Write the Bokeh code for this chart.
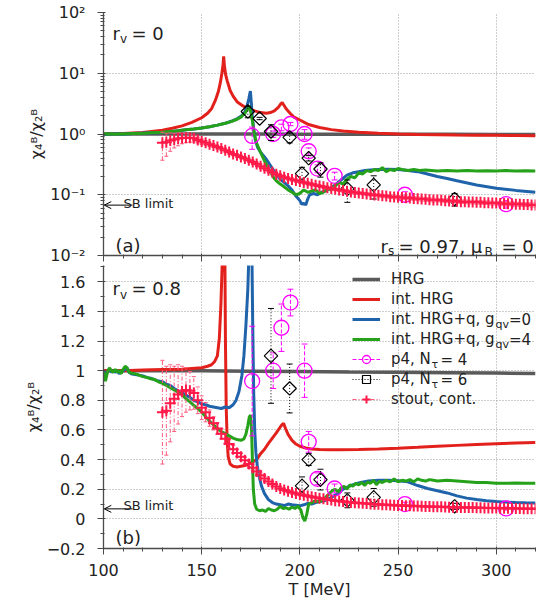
from bokeh.plotting import figure
from bokeh.layouts import column
from bokeh.models import (Range1d, FixedTicker, CustomJSTickFormatter, Label, Legend,
                          LegendItem, Arrow, OpenHead)
from bokeh.embed import file_html
from bokeh.resources import INLINE

FONT = "DejaVu Sans"

# ---------------- data ----------------
HRG_T = [100, 125, 150, 175, 200, 225, 250, 275, 300, 320]
HRG_V = [1.0, 1.0, 0.999, 0.997, 0.995, 0.992, 0.99, 0.987, 0.984, 0.981]

# r_v = 0 (panel a)
IHRG0_T = [100, 110, 120, 130, 135, 140, 145, 150, 153, 155, 157, 158.5, 159.5, 160.3, 160.9, 161.2,
           161.6, 162.2, 163, 164.5, 166, 168, 171, 174, 177, 180, 183, 185, 187, 189, 190.2, 191,
           191.8, 193, 195, 197, 200, 204, 210, 216, 222, 230, 240, 250, 260, 270, 280, 290, 300, 310, 320]
IHRG0_V = [1.0, 1.02, 1.06, 1.15, 1.24, 1.36, 1.55, 1.85, 2.2, 2.6, 3.6, 5.0, 7.0, 10.0, 14.0, 19.0,
           13.0, 9.5, 7.5, 5.2, 4.2, 3.4, 2.9, 2.6, 2.4, 2.25, 2.2, 2.25, 2.4, 2.75, 3.1, 3.3,
           3.0, 2.6, 2.2, 1.9, 1.7, 1.45, 1.28, 1.18, 1.12, 1.07, 1.03, 1.0, 0.98, 0.97, 0.96, 0.955, 0.95, 0.945, 0.94]

G0_A_T = [100, 101, 102, 103, 104, 105, 107, 109, 111, 113, 115, 118, 121, 124, 127, 130, 134, 138, 142,
          146, 150, 154, 158, 162, 165, 168, 170, 172, 173, 174, 174.8, 175.3, 175.8, 176.5, 177.3, 178.5,
          180, 182, 184, 186, 188, 190, 192, 194, 196, 198, 200, 201, 202, 203, 204, 205, 207, 209, 211,
          213, 215, 218, 221, 224, 227, 230, 233, 236, 240, 245, 250, 255, 260, 265, 270, 275, 280, 290,
          300, 310, 320]
G0_A_V = [0.97, 1.0, 0.98, 1.01, 0.99, 1.0, 1.01, 0.99, 1.0, 1.01, 1.02, 1.03, 1.04, 1.05, 1.05, 1.06,
          1.09, 1.13, 1.17, 1.21, 1.26, 1.32, 1.4, 1.5, 1.62, 1.78, 1.95, 2.3, 2.8, 3.8, 5.1, 3.2, 1.9,
          1.2, 0.8, 0.6, 0.5, 0.42, 0.34, 0.27, 0.22, 0.18, 0.16, 0.14, 0.12, 0.095, 0.08, 0.07, 0.072,
          0.068, 0.085, 0.1, 0.105, 0.1, 0.11, 0.115, 0.125, 0.145, 0.175, 0.21, 0.23, 0.24, 0.25, 0.255,
          0.26, 0.262, 0.26, 0.25, 0.24, 0.22, 0.2, 0.185, 0.17, 0.145, 0.128, 0.118, 0.11]

G4_A_T = [100, 101, 102, 103, 104, 106, 108, 110, 112, 115, 118, 121, 124, 127, 130, 134, 138, 142, 146,
          150, 154, 158, 162, 165, 168, 170, 172, 173.5, 174.3, 175, 175.9, 176.8, 178, 180, 182, 184,
          186.7, 188, 190, 192, 194, 196, 198, 200, 202, 204, 206, 208, 210, 212, 214, 216, 218, 220,
          222, 224, 226, 228, 230, 232, 234, 236, 238, 240, 242, 244, 246, 248, 250, 252, 255, 258, 261,
          264, 267, 270, 275, 280, 285, 290, 295, 300, 305, 310, 315, 320]
G4_A_V = [0.98, 1.02, 0.99, 1.0, 1.01, 0.99, 1.01, 1.0, 1.01, 1.02, 1.02, 1.03, 1.05, 1.06, 1.07, 1.1,
          1.13, 1.17, 1.21, 1.26, 1.32, 1.4, 1.5, 1.6, 1.75, 1.9, 2.2, 2.6, 2.9, 2.3, 1.6, 1.0, 0.7, 0.5,
          0.36, 0.27, 0.19, 0.17, 0.15, 0.135, 0.12, 0.11, 0.1, 0.105, 0.12, 0.11, 0.115, 0.12, 0.105,
          0.11, 0.125, 0.12, 0.14, 0.16, 0.15, 0.18, 0.2, 0.19, 0.23, 0.22, 0.25, 0.24, 0.26, 0.25, 0.28,
          0.24, 0.26, 0.25, 0.27, 0.26, 0.25, 0.26, 0.25, 0.255, 0.25, 0.245, 0.25, 0.245, 0.25, 0.245,
          0.248, 0.245, 0.25, 0.245, 0.248, 0.245]

# r_v = 0.8 (panel b)
IHRG8_T = [100, 110, 120, 130, 140, 145, 150, 153, 155, 156.5, 158, 159, 159.8, 160.4, 160.9, 161.3,
           161.7, 162.1, 162.5, 163, 163.5, 164.5, 166, 168, 170, 172, 174, 176, 178, 180, 182, 184,
           186, 188, 189.5, 190.8, 191.7, 192.7, 194, 196, 198, 200, 203, 206, 210, 215, 220, 230,
           240, 250, 260, 270, 280, 290, 300, 310, 320]
IHRG8_V = [1.0, 1.0, 1.005, 1.008, 1.01, 1.015, 1.02, 1.03, 1.04, 1.06, 1.1, 1.22, 1.45, 1.7, 2.2, 2.8,
           2.0, 1.2, 0.75, 0.52, 0.42, 0.37, 0.355, 0.35, 0.355, 0.36, 0.37, 0.385, 0.4, 0.44, 0.47, 0.51,
           0.545, 0.58, 0.61, 0.635, 0.645, 0.61, 0.57, 0.53, 0.505, 0.49, 0.478, 0.472, 0.468, 0.466,
           0.466, 0.468, 0.472, 0.477, 0.483, 0.49, 0.496, 0.502, 0.507, 0.512, 0.516]

G0_B_T = [100, 101, 102, 103, 104, 105, 106, 107, 108, 109, 110, 111, 112, 113, 114,
          116, 118, 120, 122, 124, 126, 128, 130, 132, 134, 136, 138, 140, 142, 144, 146, 148, 150,
          152, 154, 156, 158, 160, 162, 164, 166,
          167.5, 169, 170.5, 171.5, 172.5, 173.5, 174.2, 174.8, 175.4, 176, 176.5, 177, 177.6, 178.3, 179.2,
          180.5, 182, 184, 186, 188,
          190, 192, 194, 196, 198, 200, 202, 204, 206, 208, 210, 212, 214, 216, 218, 220, 222,
          225, 228, 231, 235, 240, 245, 250, 255, 260, 265, 270, 275, 280, 285, 290, 295, 300, 305,
          310, 315, 320]
G0_B_V = [1.0, 0.97, 0.99, 1.01, 0.99, 1.0, 0.99, 1.0, 0.98, 0.99, 1.0, 1.01, 1.02, 0.99, 0.98,
          0.975, 0.97, 0.965, 0.955, 0.95, 0.94, 0.93, 0.925, 0.91, 0.9, 0.88, 0.865, 0.85, 0.835, 0.82,
          0.8, 0.79, 0.775, 0.77, 0.76, 0.755, 0.75, 0.745, 0.755, 0.75, 0.77,
          0.8, 0.86, 0.97, 1.1, 1.3, 1.55, 1.85, 2.3, 2.0, 1.3, 0.85, 0.6, 0.45, 0.36, 0.29,
          0.22, 0.17, 0.13, 0.11, 0.1,
          0.095, 0.09, 0.1, 0.095, 0.092, 0.088, 0.095, 0.105, 0.1, 0.11, 0.115, 0.12, 0.13, 0.145,
          0.16, 0.18, 0.2,
          0.22, 0.235, 0.245, 0.255, 0.26, 0.26, 0.258, 0.25, 0.225, 0.205, 0.19, 0.175, 0.155, 0.14,
          0.13, 0.122, 0.117, 0.113, 0.11, 0.108, 0.107]

G4_B_T = [100, 101, 102, 103, 104, 105, 106, 107, 108, 109, 110, 111, 112, 113, 114,
          116, 118, 120, 122, 124, 126, 128, 130, 132, 134, 136, 138, 140, 142, 144, 146, 148, 150,
          152, 154, 156, 158, 160, 162, 164, 166, 168, 170,
          171.5, 172.5, 173.5, 174.3, 174.9, 175.4, 175.8, 176.3, 177, 178, 179.5, 181, 182.5, 184, 185.5,
          187, 188.5, 190, 191.5, 193, 194.5, 196, 197.5, 199, 200.5, 201.5, 202.5, 203.5, 204.5, 206,
          207.5, 209, 210.5, 212, 213.5, 215, 216.5, 218, 219.5, 221, 222.5, 224, 225.5, 227, 228.5,
          230, 231.5, 233, 234.5, 236, 237.5, 239, 240.5, 242,
          244, 246, 248, 250, 252, 254, 256, 258, 260, 262, 264, 266, 268, 270,
          275, 280, 285, 290, 295, 300, 305, 310, 315, 320]
G4_B_V = [0.99, 0.93, 0.99, 1.02, 1.0, 0.99, 1.01, 0.99, 1.0, 0.98, 1.01, 1.03, 1.02, 0.99, 0.985,
          0.98, 0.97, 0.96, 0.955, 0.945, 0.94, 0.925, 0.915, 0.9, 0.885, 0.87, 0.855, 0.84, 0.81, 0.79,
          0.765, 0.745, 0.72, 0.69, 0.66, 0.635, 0.61, 0.59, 0.575, 0.56, 0.545, 0.535, 0.53,
          0.54, 0.57, 0.63, 0.69, 0.7, 0.6, 0.42, 0.2, 0.1, 0.065, 0.055, 0.06, 0.05, 0.07, 0.06,
          0.055, 0.065, 0.085, 0.07, 0.075, 0.065, 0.08, 0.07, 0.085, 0.06, 0.01, -0.015, 0.03, 0.1, 0.11,
          0.12, 0.115, 0.12, 0.13, 0.15, 0.17, 0.19, 0.2, 0.18, 0.21, 0.22, 0.2, 0.23, 0.22, 0.24,
          0.23, 0.245, 0.225, 0.25, 0.24, 0.26, 0.23, 0.255, 0.245,
          0.26, 0.25, 0.27, 0.25, 0.26, 0.255, 0.265, 0.25, 0.27, 0.26, 0.255, 0.265, 0.26, 0.255,
          0.26, 0.255, 0.25, 0.245, 0.245, 0.24, 0.24, 0.242, 0.24, 0.24]

# lattice data (same in both panels)
P4N4_T = [175.7, 186.4, 190.6, 195.2, 202.4, 204.5, 209.0, 217.7, 253.5, 305.0]
P4N4_V = [0.93, 1.0, 1.29, 1.46, 1.0, 0.52, 0.27, 0.205, 0.10, 0.07]
P4N4_E = [0.37, 0.12, 0.16, 0.09, 0.18, 0.07, 0.04, 0.03, 0.012, 0.01]

P4N6_T = [173.5, 179.5, 185.3, 194.8, 201.1, 204.5, 210.5, 224.2, 237.6, 278.8]
P4N6_V = [2.35, 1.8, 1.1, 0.88, 0.223, 0.40, 0.265, 0.125, 0.145, 0.085]
P4N6_E = [0.5, 0.08, 0.32, 0.165, 0.06, 0.04, 0.07, 0.05, 0.06, 0.02]

STOUT_T = [130, 132, 134, 136, 138, 140, 142, 144, 146, 148,
           150, 152, 154, 156, 158, 160, 162, 164, 166, 168,
           170, 172, 174, 176, 178, 180, 182, 184, 186, 188,
           190, 192, 194, 196, 198, 200, 202, 204, 206, 208,
           210, 212, 214, 216, 218, 220, 222, 224, 226, 228,
           230, 232, 234, 236, 238, 240, 242, 244, 246, 248,
           250, 252, 254, 256, 258, 260, 262, 264, 266, 268,
           270, 272, 274, 276, 278, 280, 282, 284, 286, 288,
           290, 292, 294, 296, 298, 300, 302, 304, 306, 308,
           310, 312, 314, 316, 318, 320]
STOUT_V = [0.72, 0.73, 0.78, 0.81, 0.84, 0.86, 0.87, 0.865, 0.85, 0.80,
           0.75, 0.72, 0.68, 0.645, 0.61, 0.575, 0.54, 0.505, 0.47, 0.445,
           0.42, 0.395, 0.37, 0.345, 0.32, 0.295, 0.272, 0.252, 0.235, 0.218,
           0.205, 0.195, 0.186, 0.178, 0.171, 0.165, 0.159, 0.154, 0.149, 0.144,
           0.139, 0.135, 0.131, 0.127, 0.123, 0.12, 0.117, 0.114, 0.111, 0.109,
           0.107, 0.105, 0.103, 0.101, 0.099, 0.098, 0.096, 0.095, 0.093, 0.092,
           0.091, 0.09, 0.089, 0.088, 0.087, 0.086, 0.085, 0.084, 0.083, 0.082,
           0.082, 0.081, 0.08, 0.079, 0.079, 0.078, 0.077, 0.077, 0.076, 0.076,
           0.075, 0.075, 0.074, 0.074, 0.073, 0.073, 0.072, 0.072, 0.071, 0.071,
           0.07, 0.07, 0.069, 0.069, 0.068, 0.068]
STOUT_E = [0.35, 0.3, 0.26, 0.22, 0.2, 0.17, 0.15, 0.13, 0.11, 0.09,
           0.08, 0.065, 0.055, 0.045, 0.04, 0.035, 0.03, 0.028, 0.025, 0.022,
           0.02, 0.019, 0.018, 0.017, 0.016, 0.015, 0.014, 0.013, 0.012, 0.012,
           0.011, 0.011, 0.01, 0.01, 0.01, 0.009, 0.009, 0.009, 0.008, 0.008,
           0.007, 0.007, 0.007, 0.007, 0.007, 0.007, 0.007, 0.007, 0.007, 0.007,
           0.006, 0.006, 0.006, 0.006, 0.006, 0.006, 0.006, 0.006, 0.006, 0.006,
           0.006, 0.006, 0.006, 0.006, 0.006, 0.006, 0.006, 0.006, 0.006, 0.006,
           0.005, 0.005, 0.005, 0.005, 0.005, 0.005, 0.005, 0.005, 0.005, 0.005,
           0.005, 0.005, 0.005, 0.005, 0.005, 0.005, 0.005, 0.005, 0.005, 0.005,
           0.005, 0.005, 0.005, 0.005, 0.005, 0.005]

SB_LIMIT = 0.0675

X_TICKS = [100, 150, 200, 250, 300]
X_MINOR = [110, 120, 130, 140, 160, 170, 180, 190, 210, 220, 230, 240, 260, 270, 280, 290, 310, 320]
YT_TICKS = [0.01, 0.1, 1, 10, 100]
YT_LABELS = ["10⁻²", "10⁻¹", "10⁰", "10¹", "10²"]
YB_TICKS = [-0.2, 0, 0.2, 0.4, 0.6, 0.8, 1.0, 1.2, 1.4, 1.6]
YB_LABELS = ["−0.2", "0", "0.2", "0.4", "0.6", "0.8", "1", "1.2", "1.4", "1.6"]
YB_MINOR = [-0.1, 0.1, 0.3, 0.5, 0.7, 0.9, 1.1, 1.3, 1.5, 1.7]

C_HRG = "#5a5a5a"
C_IHRG = "#e3211c"
C_G0 = "#1f63ab"
C_G4 = "#25a21a"
C_P4N4 = "#ff00ff"
C_P4N6 = "#000000"
C_STOUT = "#ff1a4a"
C_STOUT_ERR = "#ff5a7c"
AX_C = "#4a4a4a"
TXT_C = "#222222"


def base_fig(y_range, y_type, fh, btop, bbot):
    p = figure(title=None, frame_width=432, frame_height=fh, x_range=Range1d(100, 320),
               y_range=y_range, y_axis_type=y_type, output_backend="svg",
               toolbar_location=None, min_border_left=103, min_border_right=9,
               min_border_top=btop, min_border_bottom=bbot)
    p.outline_line_color = None
    xt = FixedTicker(ticks=X_TICKS, minor_ticks=X_MINOR)
    p.xaxis.ticker = xt
    p.xgrid.ticker = xt
    for g in (p.xgrid[0], p.ygrid[0]):
        g.grid_line_color = "#9a9a9a"
        g.grid_line_dash = "1 2"
        g.grid_line_width = 1
    for ax in (p.xaxis[0], p.yaxis[0]):
        ax.axis_line_color = AX_C
        ax.axis_line_width = 1.3
        ax.major_tick_line_color = AX_C
        ax.minor_tick_line_color = AX_C
        ax.major_tick_out = 6
        ax.major_tick_in = 2
        ax.minor_tick_out = 3
        ax.minor_tick_in = 1
        ax.major_label_text_font = FONT
        ax.major_label_text_font_size = "16px"
        ax.major_label_text_color = TXT_C
        ax.axis_label_text_font = FONT
        ax.axis_label_text_font_size = "16px"
        ax.axis_label_text_font_style = "normal"
        ax.axis_label_text_color = TXT_C
    p.yaxis.major_label_standoff = 12
    p.yaxis.axis_label = "χ₄ᴮ/χ₂ᴮ"
    p.yaxis.axis_label_standoff = 1
    return p


def draw_models(p, ihrg, g0, g4):
    r_hrg = p.line(HRG_T, HRG_V, line_color=C_HRG, line_width=3.5)
    r_ihrg = p.line(ihrg[0], ihrg[1], line_color=C_IHRG, line_width=3)
    r_g0 = p.line(g0[0], g0[1], line_color=C_G0, line_width=3)
    r_g4 = p.line(g4[0], g4[1], line_color=C_G4, line_width=3)
    return r_hrg, r_ihrg, r_g0, r_g4


def draw_points(p, T, V, E, err_color, err_dash, cap, **mk):
    lo = [v - e for v, e in zip(V, E)]
    hi = [v + e for v, e in zip(V, E)]
    r_err = p.segment(x0=T, y0=lo, x1=T, y1=hi, line_color=err_color,
                      line_dash=err_dash, line_width=1)
    p.scatter(T + T, lo + hi, marker="dash", size=cap, line_color=err_color, line_width=1)
    r_pts = p.scatter(T, V, **mk)
    return r_err, r_pts


def draw_lattice(p):
    a = draw_points(p, P4N4_T, P4N4_V, P4N4_E, C_P4N4, "4 2", 6,
                    marker="circle", size=15, fill_color=None, line_color=C_P4N4, line_width=1.3)
    b = draw_points(p, P4N6_T, P4N6_V, P4N6_E, C_P4N6, "1 2", 6,
                    marker="square", size=9.5, angle=45, angle_units="deg",
                    fill_color=None, line_color=C_P4N6, line_width=1.2)
    c = draw_points(p, STOUT_T, STOUT_V, STOUT_E, C_STOUT_ERR, "4 2 1 2", 4,
                    marker="cross", size=11, line_color=C_STOUT, line_width=2)
    return a, b, c


def lab(p, text, x, y, size, baseline="alphabetic"):
    p.add_layout(Label(x=x, y=y, x_units="screen", y_units="screen", text=text,
                       text_font=FONT, text_font_size=f"{size}px", text_color=TXT_C,
                       text_baseline=baseline, text_align="left"))


def sb_arrow(p, y_text):
    p.add_layout(Arrow(end=OpenHead(size=7, line_width=1, line_color="black"),
                       x_start=114.8, y_start=SB_LIMIT, x_end=100.4, y_end=SB_LIMIT,
                       line_width=1, line_color="black"))
    lab(p, "SB limit", 20, y_text, 13)


# ---------------- top panel (r_v = 0, log) ----------------
p1 = base_fig(Range1d(0.01, 100), "log", 243, 12, 10)
yt = FixedTicker(ticks=YT_TICKS, minor_ticks=[m * 10 ** e for e in (-2, -1, 0, 1) for m in range(2, 10)])
p1.yaxis.ticker = yt
p1.ygrid.ticker = FixedTicker(ticks=YT_TICKS)
p1.yaxis.major_label_overrides = dict(zip(YT_TICKS, YT_LABELS))
p1.xaxis.formatter = CustomJSTickFormatter(code="return ''")
p1.xaxis.major_label_text_font_size = "0px"
p1.xaxis.major_label_standoff = 0

draw_models(p1, (IHRG0_T, IHRG0_V), (G0_A_T, G0_A_V), (G4_A_T, G4_A_V))
draw_lattice(p1)
sb_arrow(p1, 52.5)
lab(p1, "r", 9, 222, 18)
lab(p1, "v", 16.5, 217, 12)
lab(p1, "= 0", 28, 222, 18)
lab(p1, "(a)", 12, 10, 18)
lab(p1, "r", 277, 9, 18)
lab(p1, "s", 284.5, 4.5, 12)
lab(p1, "= 0.97, μ", 295, 9, 18)
lab(p1, "B", 381, 3.5, 12)
lab(p1, "= 0", 398, 9, 18)

# ---------------- bottom panel (r_v = 0.8, linear) ----------------
p2 = base_fig(Range1d(-0.2, 1.71), "linear", 283, 0, 56)
ybt = FixedTicker(ticks=YB_TICKS, minor_ticks=YB_MINOR)
p2.yaxis.ticker = ybt
p2.ygrid.ticker = FixedTicker(ticks=YB_TICKS)
p2.yaxis.major_label_overrides = dict(zip(YB_TICKS, YB_LABELS))
p2.xaxis.axis_label = "T [MeV]"
p2.xaxis.major_label_standoff = 9
p2.xaxis.axis_label_standoff = 1

r_hrg, r_ihrg, r_g0, r_g4 = draw_models(p2, (IHRG8_T, IHRG8_V), (G0_B_T, G0_B_V), (G4_B_T, G4_B_V))
(e4, m4), (e6, m6), (es, ms) = draw_lattice(p2)
sb_arrow(p2, 43)
lab(p2, "r", 9, 259.7, 18)
lab(p2, "v", 16.5, 254, 12)
lab(p2, "= 0.8", 28, 259.7, 18)
lab(p2, "(b)", 12, 11.3, 18)

legend = Legend(items=[
    LegendItem(label="HRG", renderers=[r_hrg]),
    LegendItem(label="int. HRG", renderers=[r_ihrg]),
    LegendItem(label="int. HRG+q, g", renderers=[r_g0]),
    LegendItem(label="int. HRG+q, g", renderers=[r_g4]),
    LegendItem(label="p4, N", renderers=[e4, m4]),
    LegendItem(label="p4, N", renderers=[e6, m6]),
    LegendItem(label="stout, cont.", renderers=[es, ms]),
], location=(249, 139), background_fill_alpha=0, border_line_alpha=0,
    label_text_font=FONT, label_text_font_size="15px", label_text_color=TXT_C,
    glyph_width=28, glyph_height=20, label_height=20, spacing=0, padding=0, margin=0,
    label_standoff=11)
p2.add_layout(legend)

# subscripts of legend entries
lab(p2, "qv", 392, 223.7, 11, "middle")
lab(p2, "=0", 405.5, 228.7, 15, "middle")
lab(p2, "qv", 392, 203.7, 11, "middle")
lab(p2, "=4", 405.5, 208.7, 15, "middle")
lab(p2, "τ", 328, 183.7, 11, "middle")
lab(p2, "= 4", 337, 188.7, 15, "middle")
lab(p2, "τ", 328, 163.7, 11, "middle")
lab(p2, "= 6", 337, 168.7, 15, "middle")

layout = column(p1, p2, spacing=0)
open("out.html", "w").write(file_html(layout, INLINE))
